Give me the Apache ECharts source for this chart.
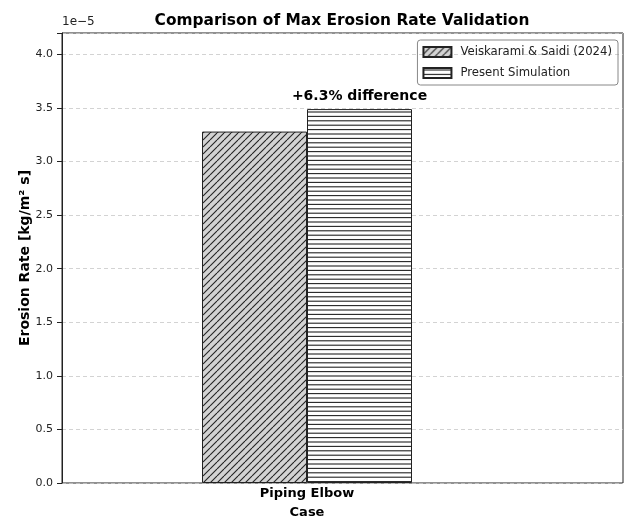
<!DOCTYPE html>
<html><head><meta charset="utf-8">
<script src="https://cdn.jsdelivr.net/npm/echarts@6/dist/echarts.min.js"></script>
<style>html,body{margin:0;padding:0;background:#fff}#c{width:625px;height:522px}</style>
</head><body><div id="c"></div>
<script>
// Data (values in units of 1e-5 kg/m² s)
const categories = ["Piping Elbow\nCase"];
const seriesNames = ["Veiskarami & Saidi (2024)", "Present Simulation"];
const referenceValues = [3.28];
const simulationValues = [3.49];
const yTicks = [0.0, 0.5, 1.0, 1.5, 2.0, 2.5, 3.0, 3.5, 4.0];
const diffLabel = "+6.3% difference";

function diagPattern() {
  const s = 7, c = document.createElement('canvas');
  c.width = s; c.height = s;
  const g = c.getContext('2d');
  g.fillStyle = '#d3d3d3'; g.fillRect(0, 0, s, s);
  g.strokeStyle = '#222'; g.lineWidth = 1.1;
  for (const o of [-s, 0, s]) {
    g.beginPath(); g.moveTo(o, s); g.lineTo(o + s, 0); g.stroke();
  }
  return c;
}
function horizPattern() {
  const h = 22, c = document.createElement('canvas');
  c.width = 4; c.height = h;
  const g = c.getContext('2d');
  g.fillStyle = '#fff'; g.fillRect(0, 0, 4, h);
  g.strokeStyle = '#222'; g.lineWidth = 1.1;
  for (let i = 0; i < 5; i++) {
    const y = 2 + i * 4.4;
    g.beginPath(); g.moveTo(0, y); g.lineTo(4, y); g.stroke();
  }
  return c;
}
const F = 'DejaVu Sans';
const chart = echarts.init(document.getElementById('c'), null, {renderer: 'canvas'});
chart.setOption({
  animation: false,
  textStyle: {fontFamily: F},
  title: {
    text: 'Comparison of Max Erosion Rate Validation',
    left: 337, top: 8, textAlign: 'center',
    textStyle: {fontFamily: F, fontWeight: 'bold', fontSize: 15.4, color: '#000'}
  },
  graphic: [{
    type: 'text', left: 62, top: 16,
    style: {text: '1e\u22125', font: '12px "DejaVu Sans"', fill: '#222'}
  }],
  legend: {
    orient: 'vertical', right: 7, top: 40, icon: 'rect',
    itemWidth: 28, itemHeight: 10, itemGap: 9,
    padding: [6, 6, 6, 5],
    borderColor: '#888', borderWidth: 1, borderRadius: 3,
    textStyle: {fontFamily: F, fontSize: 11.7, color: '#222', padding: [0, 0, 0, 4]},
    data: seriesNames
  },
  grid: [
    {left: 62, top: 33, width: 561, height: 450, show: true, borderColor: '#222', borderWidth: 1,
     backgroundColor: 'transparent', outerBoundsMode: 'none', containLabel: false},
    {left: 62, top: 33, width: 490, height: 450, outerBoundsMode: 'none', containLabel: false}
  ],
  xAxis: [
    {gridIndex: 0, type: 'value', min: 0, max: 1, show: false},
    {gridIndex: 1, type: 'category', data: categories,
     axisLine: {show: false}, axisTick: {show: false},
     axisLabel: {fontFamily: F, fontWeight: 'bold', fontSize: 13, color: '#000', lineHeight: 19, margin: 1}}
  ],
  yAxis: [
    {gridIndex: 0, type: 'value', min: 0, max: 4.2, interval: 0.5,
     name: 'Erosion Rate [kg/m\u00b2 s]', nameLocation: 'middle', nameGap: 30, nameMoveOverlap: false,
     nameTextStyle: {fontFamily: F, fontWeight: 'bold', fontSize: 14, color: '#000'},
     axisLine: {show: true, lineStyle: {color: '#222'}},
     axisTick: {show: true, inside: false, length: 5, lineStyle: {color: '#222'}},
     axisLabel: {fontFamily: F, fontSize: 11, color: '#222', margin: 9,
       formatter: v => yTicks.some(t => Math.abs(t - v) < 1e-9) ? v.toFixed(1) : ''},
     splitLine: {show: true, lineStyle: {color: '#c8c8c8', type: [4, 3], width: 0.8}}},
    {gridIndex: 1, type: 'value', min: 0, max: 4.2, show: false, splitLine: {show: false}}
  ],
  series: [
    {name: seriesNames[0], type: 'bar', xAxisIndex: 1, yAxisIndex: 1,
     data: referenceValues, barWidth: 105, barGap: '0%',
     itemStyle: {color: {image: diagPattern(), repeat: 'repeat'}, borderColor: '#222', borderWidth: 1}},
    {name: seriesNames[1], type: 'bar', xAxisIndex: 1, yAxisIndex: 1,
     data: simulationValues, barWidth: 105, barGap: '0%',
     itemStyle: {color: {image: horizPattern(), repeat: 'repeat'}, borderColor: '#222', borderWidth: 1},
     label: {show: true, position: 'top', distance: 6, formatter: diffLabel,
       fontFamily: F, fontWeight: 'bold', fontSize: 14, color: '#000'}}
  ]
});
</script></body></html>
